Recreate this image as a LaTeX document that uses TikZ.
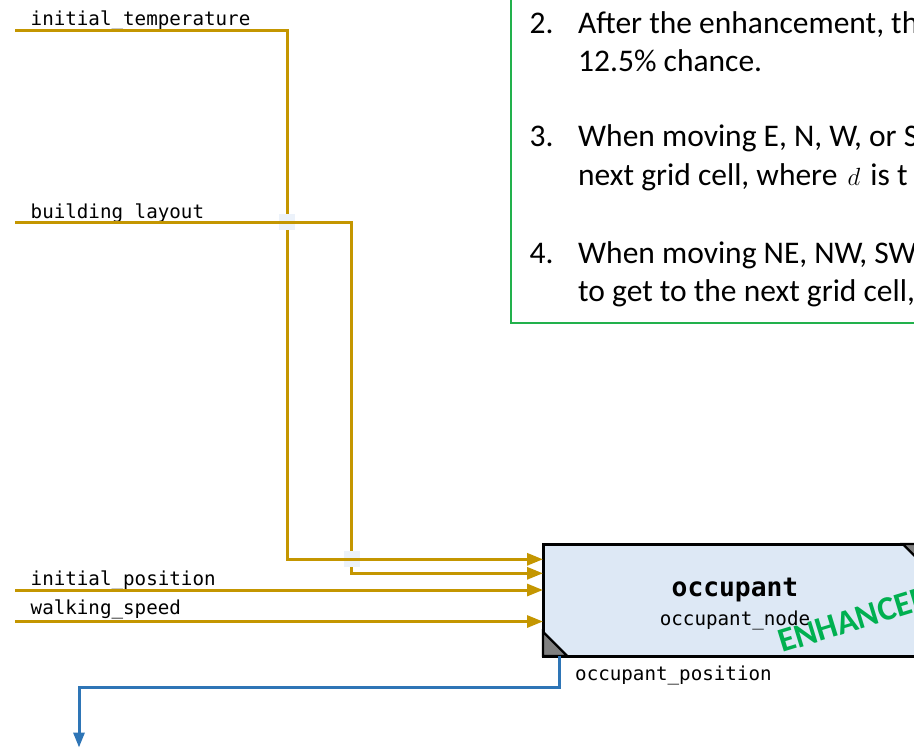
\documentclass[tikz,border=0pt]{standalone}
\usepackage{fontspec}
\setmainfont{Carlito}
\setmonofont{DejaVu Sans Mono}
\usetikzlibrary{arrows.meta}
\definecolor{flowgold}{RGB}{196,150,0}
\definecolor{flowblue}{RGB}{46,117,182}
\definecolor{boxfill}{RGB}{221,232,245}
\definecolor{notegreen}{RGB}{34,177,76}
\definecolor{stampgreen}{RGB}{0,176,80}
\definecolor{jumpfill}{RGB}{236,242,250}
\definecolor{cornergray}{RGB}{128,128,128}

\begin{document}
\begin{tikzpicture}[x=1pt,y=-1pt,
  portlabel/.style={anchor=base west, inner sep=0pt, font=\ttfamily\fontsize{19.2}{20}\selectfont},
  flow/.style={draw=flowgold, line width=3pt, -{Triangle[length=16pt,width=12pt]}},
  outflow/.style={draw=flowblue, line width=3pt, -{Triangle[length=15pt,width=11pt]}},
  jump/.style={fill=jumpfill, minimum size=16pt, inner sep=0pt, outer sep=0pt},
  wire/.style={draw=flowgold, line width=3pt},
  block/.style={draw=black, line width=3pt, fill=boxfill, inner sep=0pt, outer sep=0pt},
  notch/.style={fill=cornergray, draw=black, line width=2.2pt, line join=miter},
  notetext/.style={anchor=base west, inner sep=0pt, font=\fontsize{31.5}{38}\selectfont},
  stamp/.style={anchor=base west, inner sep=0pt, text=stampgreen, font=\bfseries\fontsize{34}{34}\selectfont}
]
\useasboundingbox (0,0) rectangle (914,748);
\clip (0,0) rectangle (914,748);

% note panel
\node[draw=notegreen, line width=2.2pt, anchor=south west, minimum width=420pt,
      minimum height=340pt, outer sep=0pt, inner sep=0pt] (note) at (511,323.3) {};
\node[notetext] (n2) at (529.5,33.3) {2.};
\node[notetext] (t2a) at (578,33.3) {After the enhancement, th};
\node[notetext] (t2b) at (578,71.7) {12.5\% chance.};
\node[notetext] (n3) at (529.5,146.7) {3.};
\node[notetext] (t3a) at (578,146.7) {When moving E, N, W, or S};
\node[notetext] (t3b) at (578,185) {next grid cell, where\hspace{3pt} {\fontsize{37}{38}\selectfont$d$}\hspace{3pt} is t};
\node[notetext] (n4) at (529.5,263.3) {4.};
\node[notetext] (t4a) at (578,263.3) {When moving NE, NW, SW};
\node[notetext] (t4b) at (578,301.7) {to get to the next grid cell,};

% the block
\node[block, anchor=north west, minimum width=384pt, minimum height=112pt] (occ) at (543,544) {};
\filldraw[notch] (occ.south west) ++(0,-24.3) -- (occ.south west) -- ++(24.3,0) -- cycle;
\filldraw[notch] (occ.north east) ++(-24.3,0) -- (occ.north east) -- ++(0,24.3) -- cycle;
\node[anchor=base, inner sep=0pt, font=\ttfamily\bfseries\fontsize{26.3}{28}\selectfont] (occtitle) at (735,596.7) {occupant};
\node[anchor=base, inner sep=0pt, font=\ttfamily\fontsize{19.2}{20}\selectfont] (occname) at (735,625) {occupant\_node};
\node[stamp, rotate=17] (occstamp) at (782,653) {ENHANCED};

% inputs
\coordinate (in1) at (15,30);
\coordinate (in2) at (15,222);
\coordinate (in3) at (15,590);
\coordinate (in4) at (15,621.5);
\coordinate (bend1) at (287,559.3);
\coordinate (bend2) at (351,573.3);

\node[portlabel] (l1) at (30.5,25) {initial\_temperature};
\node[portlabel] (l2) at (30.5,218.3) {building\_layout};
\node[portlabel] (l3) at (30.5,585.7) {initial\_position};
\node[portlabel] (l4) at (30.5,614.7) {walking\_speed};

\draw[flow] (in1) -| (bend1) -- (bend1 -| occ.west);
\draw[flow] (in2) -| (bend2) -- (bend2 -| occ.west);
\draw[flow] (in3) -- (in3 -| occ.west);
\draw[flow] (in4) -- (in4 -| occ.west);

% line jumps where wires cross
\node[jump] (j1) at (287,222) {};
\node[jump] (j2) at (351.5,559.3) {};
\draw[wire] (j1.west) -- (j1.east);
\draw[wire] (j2.west) -- (j2.east);

% output
\coordinate (outend) at (79,747.5);
\draw[outflow] ([xshift=16pt]occ.south west) -- ++(0,31) -| (outend);
\node[portlabel] (lout) at (575,680.7) {occupant\_position};
\end{tikzpicture}
\end{document}
